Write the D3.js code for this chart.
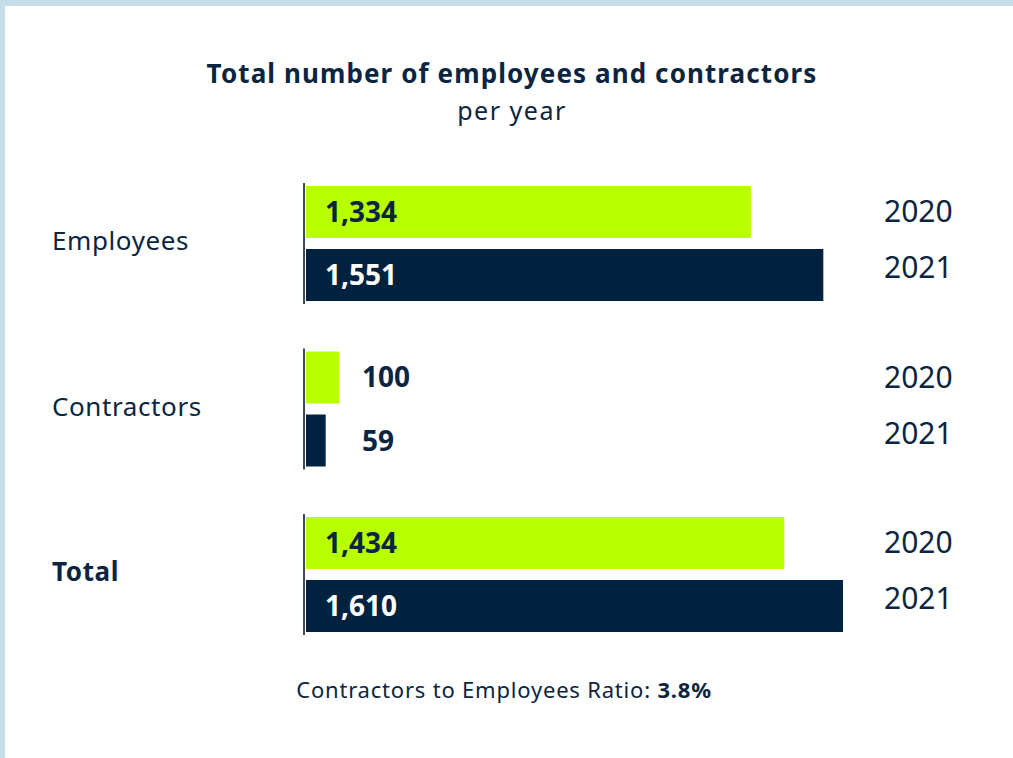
<!DOCTYPE html>
<html>
<head>
<meta charset="utf-8">
<style>
  html, body { margin: 0; padding: 0; background: #fff; }
  body { font-family: "Noto Sans", sans-serif; }
  svg text { fill: #0b2540; }
</style>
<title>Total number of employees and contractors</title>
</head>
<body>
<script src="https://cdn.jsdelivr.net/npm/d3@7"></script>
<script>
// data
var categories = ["Employees", "Contractors", "Total"];
var years = ["2020", "2021"];
var values2020 = [1334, 100, 1434];
var values2021 = [1551, 59, 1610];
var ratioLabel = "3.8%";

var width = 1013, height = 758;
var green = "#b8ff00", navy = "#00223f";

var svg = d3.select("body").append("svg")
  .attr("width", width)
  .attr("height", height);

// light blue frame on top and left
svg.append("rect").attr("x", 0).attr("y", 0).attr("width", width).attr("height", 6).attr("fill", "#c5dde8");
svg.append("rect").attr("x", 0).attr("y", 0).attr("width", 5).attr("height", height).attr("fill", "#c5dde8");

// titles
svg.append("text")
  .attr("x", 512).attr("y", 83)
  .attr("text-anchor", "middle")
  .style("font-size", "26px").style("font-weight", "bold")
  .style("letter-spacing", "1.1px")
  .text("Total number of employees and contractors");
svg.append("text")
  .attr("x", 512).attr("y", 120)
  .attr("text-anchor", "middle")
  .style("font-size", "25px")
  .style("letter-spacing", "1.5px")
  .text("per year");

// scales
var groupY = d3.scalePoint().domain(categories).range([186, 517]);
var yearY = d3.scaleBand().domain(years).range([0, 115]).paddingInner(0.175);
var x = d3.scaleLinear().domain([0, 1610]).range([306, 843]);

var rows = [];
categories.forEach(function(c, i) {
  rows.push({cat: c, year: "2020", value: values2020[i]});
  rows.push({cat: c, year: "2021", value: values2021[i]});
});

var fmt = d3.format(",");

// bars
svg.selectAll("rect.bar")
  .data(rows)
  .enter().append("rect")
  .attr("class", "bar")
  .attr("x", x(0))
  .attr("y", function(d) { return groupY(d.cat) + yearY(d.year); })
  .attr("width", function(d) { return x(d.value) - x(0); })
  .attr("height", yearY.bandwidth())
  .attr("fill", function(d) { return d.year == "2020" ? green : navy; });

// value labels
svg.selectAll("text.val")
  .data(rows)
  .enter().append("text")
  .attr("class", "val")
  .attr("x", function(d) { return (x(d.value) - x(0)) < 100 ? 362 : 325; })
  .attr("y", function(d) { return groupY(d.cat) + yearY(d.year) + yearY.bandwidth() / 2 + 10; })
  .style("font-size", "28px").style("font-weight", "bold")
  .style("fill", function(d) { return (d.year == "2021" && (x(d.value) - x(0)) >= 100) ? "#ffffff" : "#0b2540"; })
  .text(function(d) { return fmt(d.value); });

// baseline per group
svg.selectAll("line.base")
  .data(categories)
  .enter().append("line")
  .attr("class", "base")
  .attr("x1", 304).attr("x2", 304)
  .attr("y1", function(d) { return groupY(d) - 3; })
  .attr("y2", function(d) { return groupY(d) + 118; })
  .attr("stroke", "#3b4b5c").attr("stroke-width", 2);

// category labels
svg.selectAll("text.cat")
  .data(categories)
  .enter().append("text")
  .attr("class", "cat")
  .attr("x", 52)
  .attr("y", function(d) { return groupY(d) + 64; })
  .style("font-size", "26px")
  .style("letter-spacing", "0.6px")
  .style("font-weight", function(d) { return d == "Total" ? "bold" : "normal"; })
  .text(function(d) { return d; });

// year labels
categories.forEach(function(c) {
  years.forEach(function(yr, j) {
    svg.append("text")
      .attr("x", 884)
      .attr("y", groupY(c) + 36 + j * 56)
      .style("font-size", "30px")
      .text(yr);
  });
});

// footer
var foot = svg.append("text")
  .attr("x", 504).attr("y", 698)
  .attr("text-anchor", "middle")
  .style("font-size", "22px")
  .style("letter-spacing", "0.8px");
foot.append("tspan").text("Contractors to Employees Ratio: ");
foot.append("tspan").style("font-weight", "bold").text(ratioLabel);
</script>
</body>
</html>
